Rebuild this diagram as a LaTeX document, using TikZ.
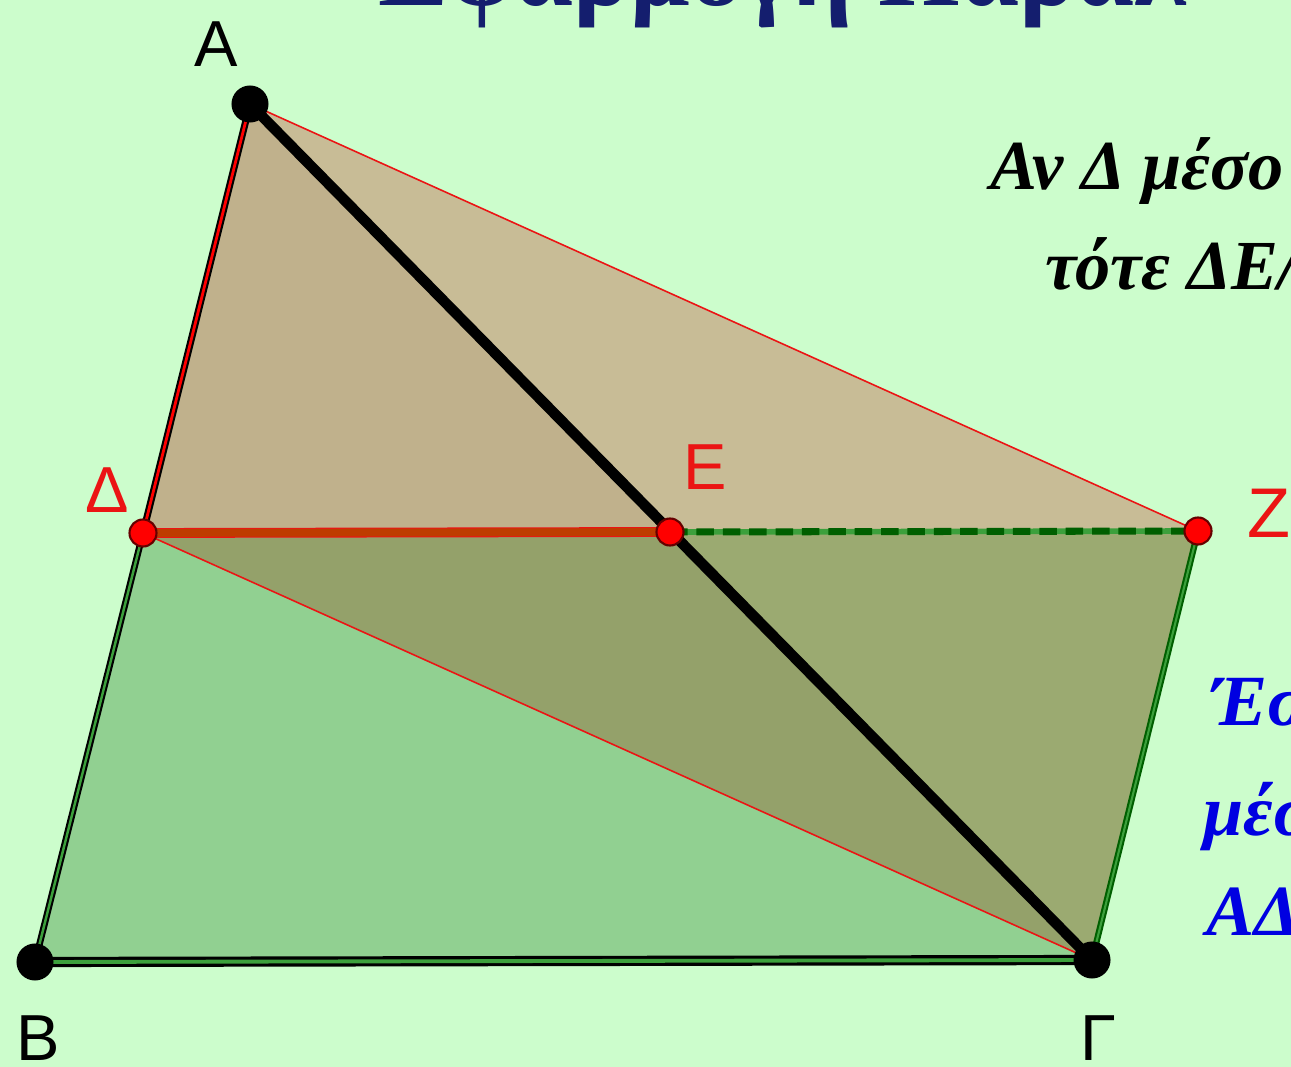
\documentclass[tikz,border=0pt]{standalone}
\usepackage{fontspec}
\setmainfont{Liberation Serif}
\newfontfamily\labelfont{Liberation Sans}
\usepackage{tikz}
\definecolor{geo-bg}{RGB}{204,253,204}
\definecolor{geo-tan}{RGB}{200,188,150}
\definecolor{geo-tandark}{RGB}{192,177,140}
\definecolor{geo-olive}{RGB}{155,170,113}
\definecolor{geo-olivedark}{RGB}{148,161,106}
\definecolor{geo-green}{RGB}{145,208,145}
\definecolor{geo-red}{RGB}{235,20,20}
\definecolor{geo-brown}{RGB}{190,60,0}
\definecolor{geo-dkgreen}{RGB}{0,95,0}
\definecolor{geo-ltgreen}{RGB}{60,160,60}
\definecolor{geo-blue}{RGB}{0,0,225}
\definecolor{geo-navy}{RGB}{20,30,110}

\begin{document}
\begin{tikzpicture}[x=0.01cm, y=-0.01cm,
            bigdot/.style={circle, fill=black, inner sep=0pt, minimum size=0.37cm},
            reddot/.style={circle, fill=red, draw=black!60!red, line width=0.6pt,
                           inner sep=0pt, minimum size=0.27cm},
            ptlabel/.style={font=\labelfont\fontsize{18.5}{18.5}\selectfont},
            greek/.style={anchor=base west, inner sep=0pt,
                          font=\bfseries\itshape\fontsize{20}{20}\selectfont},
            bluegreek/.style={greek, text=geo-blue,
                              font=\bfseries\itshape\fontsize{20.5}{20.5}\selectfont}]
          \useasboundingbox (0,0) rectangle (1291,1067);
          \clip (0,0) rectangle (1291,1067);
          \fill[geo-bg] (0,0) rectangle (1291,1067);
          % points
          \coordinate (A) at (250,104);
          \coordinate (B) at (35,962);
          \coordinate (G) at (1092,960);
          \coordinate (D) at (143,533);
          \coordinate (E) at (670,532);
          \coordinate (Z) at (1198,531);
          % regions
          \fill[geo-tandark]   (A) -- (D) -- (E) -- cycle;
          \fill[geo-tan]       (A) -- (E) -- (Z) -- cycle;
          \fill[geo-olivedark] (D) -- (E) -- (G) -- cycle;
          \fill[geo-olive]     (E) -- (Z) -- (G) -- cycle;
          \fill[geo-green]     (D) -- (B) -- (G) -- cycle;
          % sides
          \draw[geo-red, line width=0.45pt] (A) -- (Z);
          \draw[geo-red, line width=0.45pt] (D) -- (G);
          \draw[draw=black, double=red, double distance=0.8pt, line width=0.6pt] (A) -- (D);
          \draw[draw=black, double=geo-ltgreen, double distance=0.7pt, line width=0.6pt] (D) -- (B);
          \draw[draw=black, double=geo-ltgreen, double distance=1.1pt, line width=0.9pt] (B) -- (G);
          \draw[draw=geo-dkgreen, double=geo-ltgreen, double distance=0.6pt, line width=0.6pt] (G) -- (Z);
          \draw[draw=geo-red, double=geo-brown, double distance=2.2pt, line width=0.3pt] (D) -- (E);
          \draw[geo-ltgreen, line width=1.6pt] (E) -- (Z);
          \draw[geo-dkgreen, line width=2pt, dash pattern=on 5pt off 2.5pt] (E) -- (Z);
          \draw[black, line width=3pt] (A) -- (G);
          % dots
          \node[bigdot] (a) at (A) {};
          \node[bigdot] (b) at (B) {};
          \node[bigdot] (g) at (G) {};
          \node[reddot] (d) at (D) {};
          \node[reddot] (e) at (E) {};
          \node[reddot] (z) at (Z) {};
          % labels
          \node[ptlabel] (la) at (216,44)   {A};
          \node[ptlabel] (lb) at (38,1038)  {B};
          \node[ptlabel] (lg) at (1098,1038) {Γ};
          \node[ptlabel, text=geo-red] (ld) at (107,490) {Δ};
          \node[ptlabel, text=geo-red] (le) at (705,467) {E};
          \node[ptlabel, text=geo-red, font=\labelfont\fontsize{20}{20}\selectfont] (lz) at (1269,513) {Z};
          % texts
          \node[anchor=base west, inner sep=0pt, text=geo-navy,
                font=\bfseries\fontsize{30}{30}\selectfont] (title) at (378,6) {Εφαρμογή Παραλ};
          \node[greek] (t1) at (990,190) {Αν Δ μέσο};
          \node[greek] (t2) at (1045,290) {τότε ΔΕ//};
          \node[bluegreek] (t3) at (1211,725) {Έσ};
          \node[bluegreek] (t4) at (1203,835) {μέσ};
          \node[bluegreek] (t5) at (1206,935) {ΑΔ};
        \end{tikzpicture}
\end{document}
